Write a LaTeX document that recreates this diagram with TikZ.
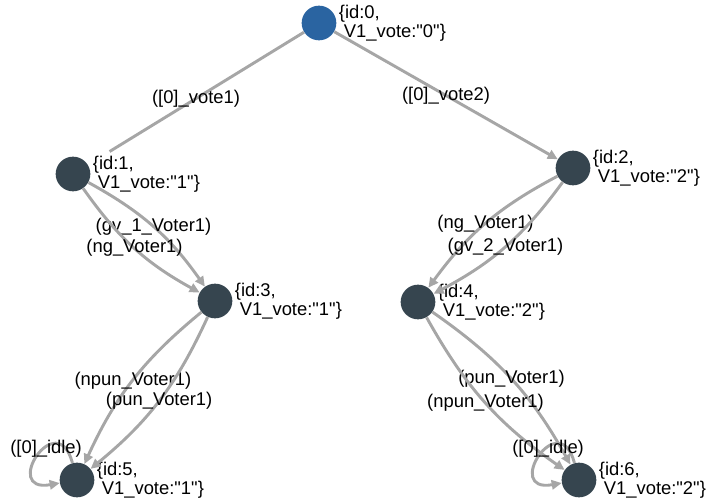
\documentclass[tikz,border=0pt]{standalone}
\usepackage{fontspec}
\newfontfamily\lblfont{Liberation Sans}
\usetikzlibrary{arrows.meta,positioning}
\definecolor{stategray}{HTML}{36454F}
\definecolor{initblue}{HTML}{2A64A1}
\definecolor{edgegray}{HTML}{A6A6A6}
\tikzset{
	state/.style={circle, fill=stategray, minimum size=26pt, inner sep=0pt},
	vlbl/.style={align=left, inner sep=0pt, font=\lblfont\fontsize{13.8}{14.2}\selectfont},
	elbl/.style={inner sep=0pt, font=\lblfont\fontsize{13.8}{14.2}\selectfont},
	trans/.style={-{Triangle[length=7.5pt,width=7pt]}, draw=edgegray, line width=2.2pt}
}
\begin{document}
\begin{tikzpicture}[x=0.75pt, y=0.75pt, node distance=1.5pt]
	\useasboundingbox (0,0) rectangle (711,-498);
	% states
	\node[state, fill=initblue] (s0) at (319,-23) {};
	\node[state] (s1) at (73,-174) {};
	\node[state] (s2) at (573,-168) {};
	\node[state] (s3) at (215,-301) {};
	\node[state] (s4) at (418,-302) {};
	\node[state] (s5) at (77,-480) {};
	\node[state] (s6) at (579,-480) {};
	% valuations
	\node[vlbl, right=of s0] (v0) {\{id:0,\\\hspace*{.27em}V1\_vote:"0"\}};
	\node[vlbl, right=of s1] (v1) {\{id:1,\\\hspace*{.27em}V1\_vote:"1"\}};
	\node[vlbl, right=of s2] (v2) {\{id:2,\\\hspace*{.27em}V1\_vote:"2"\}};
	\node[vlbl, right=of s3] (v3) {\{id:3,\\\hspace*{.27em}V1\_vote:"1"\}};
	\node[vlbl, right=of s4] (v4) {\{id:4,\\\hspace*{.27em}V1\_vote:"2"\}};
	\node[vlbl, right=of s5] (v5) {\{id:5,\\\hspace*{.27em}V1\_vote:"1"\}};
	\node[vlbl, right=of s6] (v6) {\{id:6,\\\hspace*{.27em}V1\_vote:"2"\}};
	% transitions
	\draw[trans, -, shorten >=19pt] (s0) -- node[elbl] (t01) {([0]\_vote1)} (s1);
	\draw[trans] (s0) -- node[elbl] (t02) {([0]\_vote2)} (s2);
	\draw[trans] (s1) to[bend left=13] node[elbl] (t13a) {(gv\_1\_Voter1)} (s3);
	\draw[trans] (s1) to[bend right=13] node[elbl] (t13b) {(ng\_Voter1)} (s3);
	\draw[trans] (s2) to[bend right=13] node[elbl] (t24a) {(ng\_Voter1)} (s4);
	\draw[trans] (s2) to[bend left=13] node[elbl] (t24b) {(gv\_2\_Voter1)} (s4);
	\draw[trans] (s3) to[bend right=13] node[elbl] (t35a) {(npun\_Voter1)} (s5);
	\draw[trans] (s3) to[bend left=13] node[elbl] (t35b) {(pun\_Voter1)} (s5);
	\draw[trans] (s4) to[bend left=13] node[elbl] (t46a) {(pun\_Voter1)} (s6);
	\draw[trans] (s4) to[bend right=13] node[elbl] (t46b) {(npun\_Voter1)} (s6);
	% idle loops
	\draw[trans] (s5) to[out=105, in=190, min distance=45pt] node[elbl, above=-3pt, xshift=6pt] (l5) {([0]\_idle)} (s5);
	\draw[trans] (s6) to[out=105, in=190, min distance=45pt] node[elbl, above=-3pt, xshift=6pt] (l6) {([0]\_idle)} (s6);
\end{tikzpicture}
\end{document}
